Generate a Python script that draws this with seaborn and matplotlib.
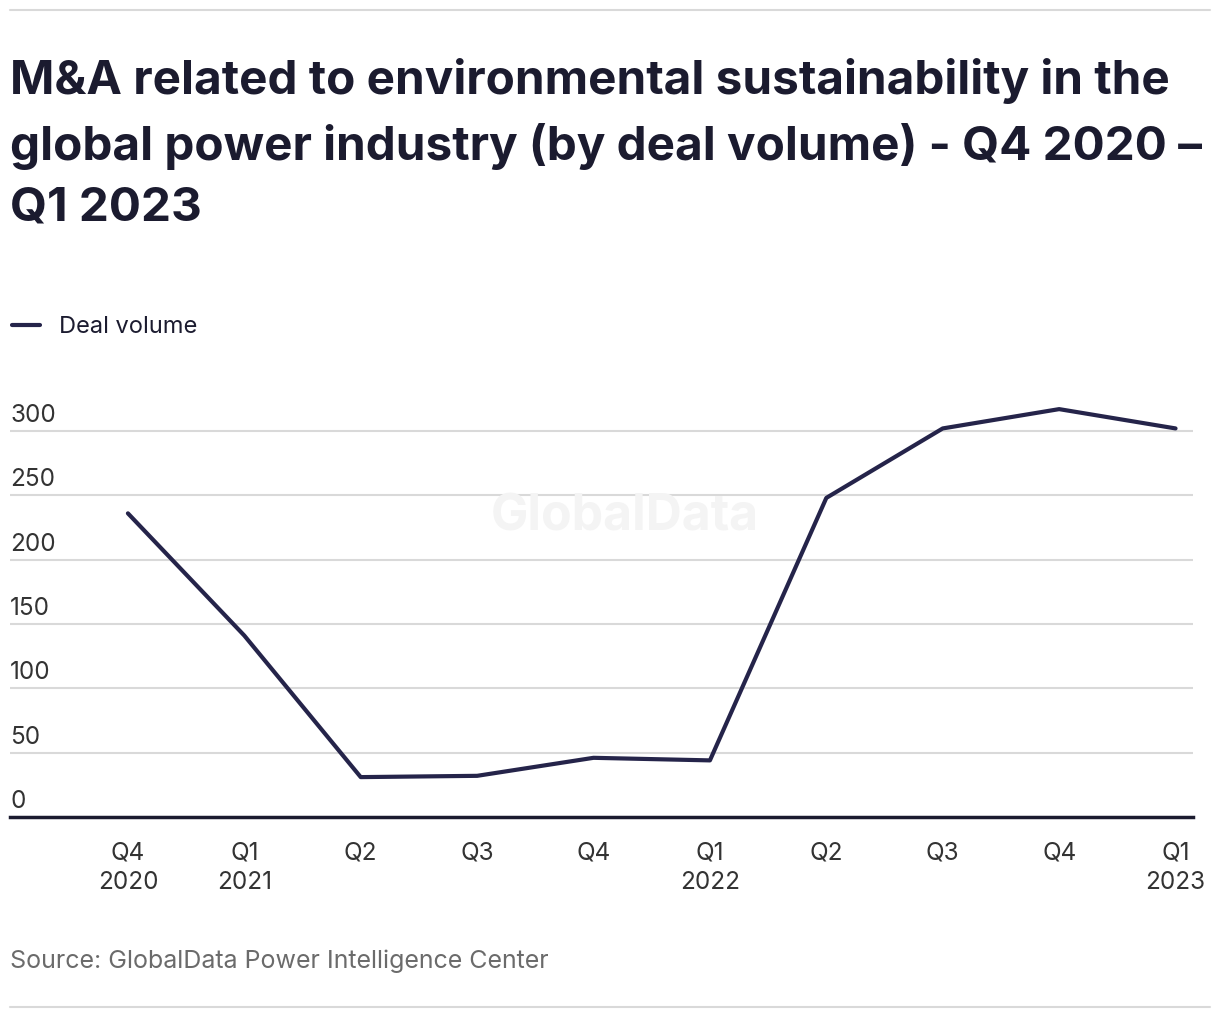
import pandas as pd
import numpy as np
import matplotlib.pyplot as plt
import matplotlib.transforms as mtransforms
import seaborn as sns

# data
quarters = ["Q4 2020", "Q1 2021", "Q2 2021", "Q3 2021", "Q4 2021",
            "Q1 2022", "Q2 2022", "Q3 2022", "Q4 2022", "Q1 2023"]
tick_labels = ["Q4\n2020", "Q1\n2021", "Q2", "Q3", "Q4",
               "Q1\n2022", "Q2", "Q3", "Q4", "Q1\n2023"]
deal_volume = [236, 141, 31, 32, 46, 44, 248, 302, 317, 302]
y_ticks = [0, 50, 100, 150, 200, 250, 300]

sns.set_theme(style="white")
plt.rcParams["font.family"] = ["Inter", "DejaVu Sans"]

LINE = "#25244a"
TEXT = "#1b1b2f"
GRID = "#d9d9d9"

df = pd.DataFrame({"idx": np.arange(len(quarters)), "quarter": quarters,
                   "Deal volume": deal_volume})

fig = plt.figure(figsize=(12.2, 10.2), dpi=100)
ax = fig.add_axes([10 / 1220, 1 - 818 / 1020, (1193 - 10) / 1220, (818 - 393.4) / 1020])

sns.lineplot(data=df, x="idx", y="Deal volume", ax=ax, color=LINE,
             linewidth=3, legend=False)

ax.set_xlim(-1.013, 9.15)
ax.set_ylim(0, 330)
ax.set_xticks(df["idx"])
ax.set_xticklabels(tick_labels, fontsize=17.5, color="#333333", linespacing=1.33)
ax.tick_params(axis="x", length=0, pad=17)
ax.set_yticks([])
ax.set_xlabel("")
ax.set_ylabel("")

for s in ["top", "right", "left"]:
    ax.spines[s].set_visible(False)
ax.spines["bottom"].set_color(TEXT)
ax.spines["bottom"].set_linewidth(2.5)

trans = mtransforms.blended_transform_factory(ax.transAxes, ax.transData)
for v in y_ticks:
    if v > 0:
        ax.axhline(v, color=GRID, linewidth=1.5, zorder=0)
    ax.text(0.0, v + 4, str(v), transform=trans, fontsize=17.5,
            color="#333333", ha="left", va="bottom")

# watermark
ax.text(0.52, 0.71, "GlobalData", transform=ax.transAxes, fontsize=36,
        fontweight="bold", color="#f4f4f4", ha="center", va="center", zorder=0)

# title
fig.text(10 / 1220, 1 - 58 / 1020,
         "M&A related to environmental sustainability in the\n"
         "global power industry (by deal volume) - Q4 2020 \u2013\n"
         "Q1 2023",
         fontsize=34.3, fontweight="bold", color=TEXT, ha="left", va="top",
         linespacing=1.5)

# legend
fig.add_artist(plt.Line2D([12 / 1220, 40 / 1220], [1 - 326 / 1020] * 2,
                          color=LINE, linewidth=3, transform=fig.transFigure))
fig.text(59 / 1220, 1 - 327 / 1020, "Deal volume", fontsize=17,
         color=TEXT, ha="left", va="center")

# source
fig.text(10 / 1220, 1 - 961 / 1020, "Source: GlobalData Power Intelligence Center",
         fontsize=18, color="#6b6b6b", ha="left", va="center")

# frame lines
for yy in [11, 1008]:
    fig.add_artist(plt.Line2D([10 / 1220, 1210 / 1220], [1 - yy / 1020] * 2,
                              color=GRID, linewidth=1.5, transform=fig.transFigure))

fig.savefig("out.png", dpi=100)
